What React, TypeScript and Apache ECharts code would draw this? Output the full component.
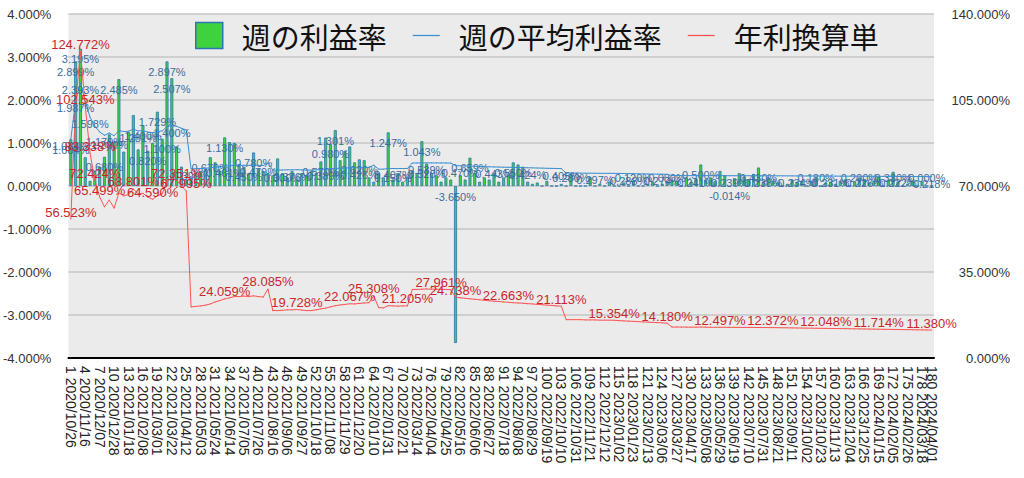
import React, { useEffect, useRef } from "react";
import * as echarts from "echarts";

// 週の利益率 (%), weeks 1..180
const weeklyRate: number[] = [
  1.084, 2.899, 3.195, 0.67, 0.12, 0.35, 0.45, 0.68, 1.2, 1.02,
  2.485, 0.8, 1.26, 1.65, 0.852, 1.4, 0.82, 1.0, 1.729, 1.1,
  2.897, 2.507, 0.922, 0.45, 0.15, 0.2, 0.3, 0.35, 0.4, 0.67,
  0.55, 0.35, 1.13, 1.02, 1.004, 0.51, 0.45, 0.3, 0.78, 0.4,
  0.35, 0.3, 0.25, 0.64, 0.3, 0.2, 0.35, 0.15, 0.3, 0.25,
  0.35, 0.3, 0.57, 1.126, 0.98, 1.301, 0.6, 0.82, 0.919, 0.55,
  0.62, 0.6, 0.2, 0.1, 0.3, 0.2, 1.247, 0.15, 0.3, 0.1,
  0.2, 0.35, 0.3, 1.043, 0.52, 0.3, 0.25, 0.1, 0.2, 0.15,
  -3.65, 0.25, 0.15, 0.659, 0.3, 0.1, 0.2, 0.15, 0.3, 0.1,
  0.2, 0.25, 0.55, 0.5, 0.45, 0.1, 0.05, 0.08, 0, 0.12,
  0, 0, 0.05, 0, 0.28, 0, 0, 0, 0.2, 0,
  0.05, 0, 0.1, 0, 0, 0.08, 0, 0.12, 0, 0,
  0.05, 0.1, 0, 0.05, 0.08, 0.15, 0.12, 0, 0.2, 0.1,
  0.18, 0.5, 0.15, 0.2, 0.12, 0.35, 0.25, -0.014, 0.18, 0.3,
  0.22, 0.15, 0.28, 0.43, 0.1, 0.2, 0.12, 0.08, 0, 0.05,
  0.15, 0.1, 0.12, 0, 0.1, 0.18, 0, 0.08, 0.1, 0.05,
  0.12, 0.15, 0, 0.1, 0.2, 0.15, 0.08, 0.12, 0.22, 0,
  0.15, 0.33, 0.1, 0, 0.05, 0.12, 0, 0.1, 0, 0,
];

// 週の平均利益率 (%)
const avgRate: number[] = [
  1.084, 1.987, 2.393, 1.967, 1.598, 1.389, 1.256, 1.179, 1.233, 1.17,
  1.289, 1.266, 1.275, 1.319, 1.281, 1.285, 1.256, 1.239, 1.266, 1.281,
  1.381, 1.4, 1.388, 1.342, 1.304, 0.399, 0.403, 0.407, 0.412, 0.422,
  0.437, 0.449, 0.461, 0.47, 0.479, 0.479, 0.483, 0.479, 0.485, 0.479,
  0.476, 0.539, 0.37, 0.37, 0.372, 0.376, 0.376, 0.378, 0.374, 0.37,
  0.37, 0.376, 0.384, 0.389, 0.399, 0.408, 0.414, 0.418, 0.423, 0.422,
  0.426, 0.43, 0.432, 0.485, 0.393, 0.391, 0.408, 0.407, 0.405, 0.407,
  0.407, 0.535, 0.535, 0.537, 0.539, 0.537, 0.537, 0.536, 0.535, 0.533,
  0.474, 0.47, 0.466, 0.462, 0.458, 0.455, 0.451, 0.447, 0.443, 0.441,
  0.437, 0.435, 0.432, 0.43, 0.428, 0.424, 0.422, 0.418, 0.416, 0.412,
  0.41, 0.407, 0.405, 0.299, 0.299, 0.299, 0.299, 0.297, 0.297, 0.297,
  0.295, 0.295, 0.295, 0.294, 0.292, 0.29, 0.288, 0.286, 0.284, 0.282,
  0.28, 0.278, 0.276, 0.274, 0.272, 0.242, 0.242, 0.242, 0.241, 0.241,
  0.241, 0.242, 0.241, 0.24, 0.24, 0.24, 0.24, 0.239, 0.239, 0.239,
  0.239, 0.239, 0.238, 0.238, 0.238, 0.237, 0.237, 0.237, 0.236, 0.236,
  0.235, 0.234, 0.234, 0.233, 0.233, 0.232, 0.231, 0.231, 0.231, 0.23,
  0.229, 0.229, 0.228, 0.228, 0.227, 0.226, 0.226, 0.225, 0.225, 0.224,
  0.223, 0.223, 0.222, 0.222, 0.221, 0.221, 0.22, 0.219, 0.219, 0.218,
];

// 年利換算単 (%), right axis
const annualRate: number[] = [
  56.523, 103.6, 124.772, 102.543, 83.338, 72.424, 65.499, 61.5, 64.3, 61.0,
  67.2, 66.0, 66.5, 68.801, 66.8, 67.0, 65.5, 64.59, 66.0, 66.8,
  72.0, 73.0, 72.351, 70.0, 67.995, 20.8, 21.0, 21.2, 21.5, 22.0,
  22.8, 23.4, 24.059, 24.5, 25.0, 25.0, 25.2, 25.0, 25.3, 25.0,
  24.8, 28.085, 19.3, 19.3, 19.4, 19.6, 19.6, 19.728, 19.5, 19.3,
  19.3, 19.6, 20.0, 20.3, 20.8, 21.3, 21.6, 21.8, 22.067, 22.0,
  22.2, 22.4, 22.5, 25.308, 20.5, 20.4, 21.3, 21.2, 21.1, 21.2,
  21.205, 27.9, 27.9, 28.0, 28.1, 28.0, 28.0, 27.961, 27.9, 27.8,
  24.738, 24.5, 24.3, 24.1, 23.9, 23.7, 23.5, 23.3, 23.1, 23.0,
  22.8, 22.663, 22.5, 22.4, 22.3, 22.1, 22.0, 21.8, 21.7, 21.5,
  21.4, 21.2, 21.113, 15.6, 15.6, 15.6, 15.6, 15.5, 15.5, 15.5,
  15.4, 15.4, 15.4, 15.354, 15.2, 15.1, 15.0, 14.9, 14.8, 14.7,
  14.6, 14.5, 14.4, 14.3, 14.18, 12.6, 12.6, 12.6, 12.55, 12.55,
  12.55, 12.6, 12.55, 12.5, 12.5, 12.497, 12.49, 12.48, 12.47, 12.46,
  12.45, 12.44, 12.43, 12.41, 12.4, 12.38, 12.372, 12.34, 12.31, 12.28,
  12.25, 12.22, 12.19, 12.16, 12.13, 12.1, 12.07, 12.048, 12.02, 11.99,
  11.96, 11.93, 11.9, 11.87, 11.84, 11.81, 11.78, 11.75, 11.714, 11.68,
  11.65, 11.62, 11.59, 11.56, 11.53, 11.5, 11.47, 11.44, 11.41, 11.38,
];

// weeks (1-based) whose 年利換算単 value carries a label
const annualLabelWeeks: number[] = [
  1, 3, 4, 5, 6, 7, 14, 18, 23, 25, 33, 42, 48, 59, 64, 71, 78, 81, 92, 103,
  114, 125, 136, 147, 158, 169, 180,
];

const seriesNames = ["週の利益率", "週の平均利益率", "年利換算単"];
const firstWeekDate = { year: 2020, month: 10, day: 26 };
const leftAxisRange = { min: -4, max: 4, interval: 1 };
const rightAxisRange = { min: 0, max: 140, interval: 35 };
const xLabelEvery = 3;

const pad2 = (n: number) => (n < 10 ? "0" + n : String(n));
const weekLabels: string[] = weeklyRate.map((_, i) => {
  const t = Date.UTC(firstWeekDate.year, firstWeekDate.month - 1, firstWeekDate.day) + i * 7 * 86400000;
  const d = new Date(t);
  return `${i + 1} ${d.getUTCFullYear()}/${pad2(d.getUTCMonth() + 1)}/${pad2(d.getUTCDate())}`;
});

const pct = (v: number) => Number(v).toFixed(3) + "%";
const NUM_FONT = "'Liberation Sans', Arial, sans-serif";
const JP_FONT = "'Noto Sans CJK JP', sans-serif";

// layout geometry (used only to decide which small labels fit)
const GRID = { left: 68, right: 90, top: 14, bottom: 120, width: 1024, height: 478 };
const plotW = GRID.width - GRID.left - GRID.right;
const plotH = GRID.height - GRID.top - GRID.bottom;
const catX = (i: number) => GRID.left + ((i + 0.5) * plotW) / weeklyRate.length;
const leftY = (v: number) =>
  GRID.top + ((leftAxisRange.max - v) * plotH) / (leftAxisRange.max - leftAxisRange.min);

type Box = { x0: number; x1: number; y0: number; y1: number };
function pickLabels(boxes: Box[], order: number[], slack: number): Set<number> {
  const shown: Box[] = [];
  const result = new Set<number>();
  for (const i of order) {
    const b = boxes[i];
    const hit = shown.some(
      (s) => b.x0 + slack < s.x1 && b.x1 - slack > s.x0 && b.y0 + 2 < s.y1 && b.y1 - 2 > s.y0
    );
    if (!hit) {
      shown.push(b);
      result.add(i);
    }
  }
  return result;
}
const textW = (v: number) => pct(v).length * 6.1;

const barLabelY = (v: number) => (v < 0 ? leftY(0) + 10.5 : Math.min(leftY(v) + 10.5, 177.5));
const barBoxes: Box[] = weeklyRate.map((v, i) => ({
  x0: catX(i) - textW(v) / 2,
  x1: catX(i) + textW(v) / 2,
  y0: barLabelY(v) - 6.5,
  y1: barLabelY(v) + 6.5,
}));
const barOrder = weeklyRate.map((_, i) => i).sort((a, b) => Math.abs(weeklyRate[b]) - Math.abs(weeklyRate[a]));
const barShown = pickLabels(barBoxes, barOrder, 5);

const avgBoxes: Box[] = avgRate.map((v, i) => ({
  x0: catX(i) - textW(v) / 2,
  x1: catX(i) + textW(v) / 2,
  y0: leftY(v) + 1,
  y1: leftY(v) + 14,
}));
const avgShown = pickLabels(avgBoxes, avgRate.map((_, i) => i), 5);

export default function App() {
  const ref = useRef<HTMLDivElement>(null);
  useEffect(() => {
    if (!ref.current) return;
    const chart = echarts.init(ref.current, undefined, { renderer: "svg" });
    const lineIcon = "path://M0,0H30V1.4H0Z";
    const lastIndex = weekLabels.length - 1;
    const xLabelStyle = { rotate: -90, fontSize: 14, color: "#222", margin: 8 };
    chart.setOption({
      animation: false,
      textStyle: { fontFamily: NUM_FONT },
      legend: {
        left: 190,
        top: 16,
        itemWidth: 27,
        itemHeight: 26,
        itemGap: 26,
        selectedMode: false,
        textStyle: { fontSize: 29, color: "#111", fontFamily: JP_FONT, padding: [0, 0, 0, 14] },
        data: [
          { name: seriesNames[0], icon: "rect", itemStyle: { borderColor: "#2a76b5", borderWidth: 1.5 } },
          { name: seriesNames[1], icon: lineIcon, itemStyle: { borderWidth: 0 } },
          { name: seriesNames[2], icon: lineIcon, itemStyle: { borderWidth: 0 } },
        ],
      },
      grid: {
        left: GRID.left,
        right: GRID.right,
        top: GRID.top,
        bottom: GRID.bottom,
        show: true,
        backgroundColor: "#ebebeb",
        borderWidth: 0,
      },
      xAxis: [
        {
          type: "category",
          data: weekLabels,
          boundaryGap: true,
          axisLine: { onZero: false, lineStyle: { color: "#000", width: 2 } },
          axisTick: { show: false },
          axisLabel: {
            ...xLabelStyle,
            interval: (index: number) => index % xLabelEvery === 0,
          },
          splitLine: { show: false },
        },
        {
          // carries only the last week's label, which overlaps its neighbour as in the reference
          type: "category",
          data: weekLabels,
          boundaryGap: true,
          position: "bottom",
          axisLine: { show: false, onZero: false },
          axisTick: { show: false },
          axisLabel: {
            ...xLabelStyle,
            showMinLabel: false,
            showMaxLabel: true,
            interval: (index: number) => index === lastIndex,
          },
          splitLine: { show: false },
        },
      ],
      yAxis: [
        {
          type: "value",
          min: leftAxisRange.min,
          max: leftAxisRange.max,
          interval: leftAxisRange.interval,
          axisLine: { show: false },
          axisTick: { show: false },
          axisLabel: { formatter: (v: number) => pct(v), fontSize: 13, color: "#333", margin: 17 },
          splitLine: { lineStyle: { color: "#c6c6c6", width: 1.5 } },
        },
        {
          type: "value",
          position: "right",
          min: rightAxisRange.min,
          max: rightAxisRange.max,
          interval: rightAxisRange.interval,
          axisLine: { show: false },
          axisTick: { show: false },
          axisLabel: { formatter: (v: number) => pct(v), fontSize: 13, color: "#333", margin: 76, align: "right" },
          splitLine: { show: false },
        },
      ],
      series: [
        {
          name: seriesNames[0],
          type: "bar",
          xAxisIndex: 0,
          yAxisIndex: 0,
          barWidth: 3,
          data: weeklyRate.map((v, i) => ({ value: v, label: { show: barShown.has(i) } })),
          itemStyle: { color: "#3fd23f", borderColor: "#2a76b5", borderWidth: 0.8 },
          label: {
            show: false,
            position: "insideTop",
            distance: 5,
            fontSize: 11,
            color: "#3a6c9e",
            formatter: (p: any) => pct(p.value),
          },
          labelLayout: (p: any) => {
            const v = weeklyRate[p.dataIndex];
            if (v < 0) return {};
            return { y: Math.min(p.rect.y + 5, 172), verticalAlign: "top", align: "center" };
          },
        },
        {
          name: seriesNames[1],
          type: "line",
          xAxisIndex: 0,
          yAxisIndex: 0,
          data: avgRate.map((v, i) => ({ value: v, label: { show: avgShown.has(i) } })),
          symbol: "circle",
          symbolSize: 1,
          showSymbol: true,
          showAllSymbol: true,
          lineStyle: { color: "#3b8ed0", width: 1 },
          itemStyle: { color: "#3b8ed0" },
          label: {
            show: false,
            position: "bottom",
            distance: 1,
            fontSize: 11,
            color: "#3a6c9e",
            formatter: (p: any) => pct(p.value),
          },
        },
        {
          name: seriesNames[2],
          type: "line",
          xAxisIndex: 0,
          yAxisIndex: 1,
          data: annualRate.map((v, i) =>
            annualLabelWeeks.includes(i + 1) ? { value: v, label: { show: true } } : v
          ),
          symbol: "circle",
          symbolSize: 1,
          showSymbol: true,
          showAllSymbol: true,
          lineStyle: { color: "#ff5252", width: 1 },
          itemStyle: { color: "#ff5252" },
          label: {
            show: false,
            position: "top",
            distance: 0,
            fontSize: 13,
            color: "#c9252b",
            formatter: (p: any) => pct(p.value),
          },
        },
      ],
    });
    return () => chart.dispose();
  }, []);
  return (
    <div
      ref={ref}
      style={{ position: "fixed", left: 0, top: 0, width: 1024, height: 478, background: "#fff" }}
    />
  );
}
